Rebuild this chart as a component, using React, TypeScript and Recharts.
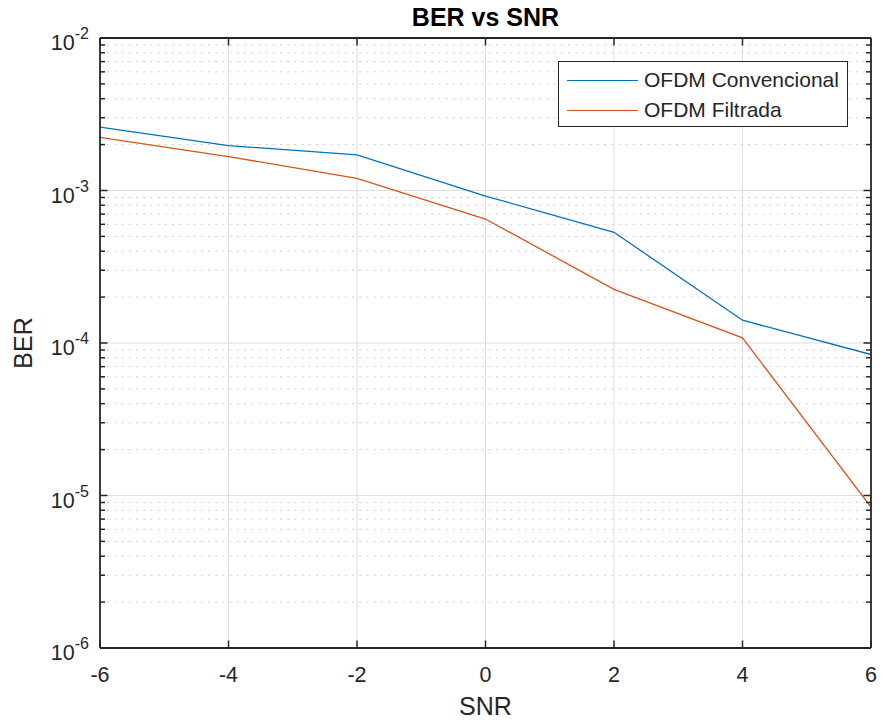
import { LineChart, Line, XAxis, YAxis, CartesianGrid, Legend } from 'recharts';

const snr = [-6, -4, -2, 0, 2, 4, 6];
const berConvencional = [2.6e-3, 1.97e-3, 1.71e-3, 9.2e-4, 5.32e-4, 1.41e-4, 8.4e-5];
const berFiltrada = [2.23e-3, 1.67e-3, 1.2e-3, 6.5e-4, 2.25e-4, 1.08e-4, 8.4e-6];

const xTicks = [-6, -4, -2, 0, 2, 4, 6];
const decadeTicks = [1e-6, 1e-5, 1e-4, 1e-3, 1e-2];
const minorMantissas = [2, 3, 4, 5, 6, 7, 8, 9];

const minorTicks = decadeTicks
  .slice(0, -1)
  .flatMap((d) => minorMantissas.map((m) => Number((m * d).toPrecision(3))));
const allYTicks = [...decadeTicks, ...minorTicks].sort((a, b) => a - b);

const data = snr.map((s, i) => ({ snr: s, conv: berConvencional[i], filt: berFiltrada[i] }));

const AXIS = '#262626';
const FONT = '"Liberation Sans", Arial, Helvetica, sans-serif';
const BLUE = '#0072BD';
const ORANGE = '#D95319';

const isDecade = (v: number) => decadeTicks.some((d) => Math.abs(d - v) / d < 1e-6);

const LeftYTick = ({ x, y, payload }: any) => {
  const major = isDecade(payload.value);
  const exp = Math.round(Math.log10(payload.value));
  return (
    <g>
      <line x1={x} x2={x + (major ? 7.5 : 5)} y1={y} y2={y} stroke={AXIS} strokeWidth={1.5} />
      {major && (
        <text x={x - 11} y={y + 12} textAnchor="end" fill={AXIS} fontSize={21.5} fontFamily={FONT}>
          10
          <tspan dy={-11} fontSize={16}>{exp}</tspan>
        </text>
      )}
    </g>
  );
};

const RightYTick = ({ x, y, payload }: any) => {
  const major = isDecade(payload.value);
  return <line x1={x} x2={x - (major ? 7.5 : 5)} y1={y} y2={y} stroke={AXIS} strokeWidth={1.5} />;
};

const BottomXTick = ({ x, y, payload }: any) => (
  <g>
    <line x1={x} x2={x} y1={y} y2={y - 7.5} stroke={AXIS} strokeWidth={1.5} />
    <text x={x} y={y + 34} textAnchor="middle" fill={AXIS} fontSize={21.5} fontFamily={FONT}>
      {payload.value}
    </text>
  </g>
);

const TopXTick = ({ x, y }: any) => (
  <line x1={x} x2={x} y1={y} y2={y + 7.5} stroke={AXIS} strokeWidth={1.5} />
);

const LegendBox = ({ payload }: any) => (
  <div
    style={{
      width: 290,
      height: 66,
      boxSizing: 'border-box',
      border: `1px solid ${AXIS}`,
      background: '#fff',
      paddingTop: 3,
    }}
  >
    {(payload || []).map((item: any) => (
      <div key={item.value} style={{ display: 'flex', alignItems: 'center', height: 30 }}>
        <div style={{ marginLeft: 8, width: 71, height: 0, borderTop: `1.3px solid ${item.color}` }} />
        <span style={{ marginLeft: 6, fontFamily: FONT, fontSize: 21, color: AXIS }}>{item.value}</span>
      </div>
    ))}
  </div>
);

export default function App() {
  return (
    <div style={{ position: 'relative', width: 881, height: 724, background: '#fff' }}>
      <style>{'body{margin:0;}'}</style>
      <LineChart width={881} height={724} data={data} margin={{ top: 0, right: 0, bottom: 0, left: 0 }}>
        <CartesianGrid
          horizontalValues={decadeTicks}
          verticalValues={xTicks}
          stroke="#dedede"
          strokeWidth={1}
        />
        <CartesianGrid
          vertical={false}
          horizontalValues={minorTicks}
          stroke="#cccccc"
          strokeDasharray="2 5.2"
        />
        <XAxis
          dataKey="snr"
          type="number"
          domain={[-6, 6]}
          ticks={xTicks}
          interval={0}
          allowDataOverflow
          height={76}
          tickSize={0}
          tickMargin={0}
          tickLine={false}
          tick={<BottomXTick />}
          axisLine={{ stroke: AXIS, strokeWidth: 1.8 }}
          label={{
            content: (p: any) => {
              const vb = p.viewBox || { x: 100, y: 648, width: 771, height: 76 };
              return (
                <text x={vb.x + vb.width / 2} y={715} textAnchor="middle" fill={AXIS} fontSize={25} fontFamily={FONT}>
                  SNR
                </text>
              );
            },
          }}
        />
        <XAxis
          xAxisId="top"
          orientation="top"
          dataKey="snr"
          type="number"
          domain={[-6, 6]}
          ticks={xTicks}
          interval={0}
          allowDataOverflow
          height={38}
          tickSize={0}
          tickMargin={0}
          tickLine={false}
          tick={<TopXTick />}
          axisLine={{ stroke: AXIS, strokeWidth: 1.8 }}
          label={{
            content: (p: any) => {
              const vb = p.viewBox || { x: 100, y: 0, width: 771, height: 38 };
              return (
                <text x={vb.x + vb.width / 2} y={26} textAnchor="middle" fill="#000" fontSize={25} fontWeight="bold" fontFamily={FONT}>
                  BER vs SNR
                </text>
              );
            },
          }}
        />
        <YAxis
          type="number"
          scale="log"
          domain={[1e-6, 1e-2]}
          ticks={allYTicks}
          interval={0}
          allowDataOverflow
          width={100}
          tickSize={0}
          tickMargin={0}
          tickLine={false}
          tick={<LeftYTick />}
          axisLine={{ stroke: AXIS, strokeWidth: 1.8 }}
          label={{
            content: (p: any) => {
              const vb = p.viewBox || { x: 0, y: 38, width: 100, height: 610 };
              const cx = 23;
              const cy = vb.y + vb.height / 2;
              return (
                <text
                  x={cx}
                  y={cy}
                  transform={`rotate(-90 ${cx} ${cy})`}
                  textAnchor="middle"
                  dominantBaseline="central"
                  fill={AXIS}
                  fontSize={25}
                  fontFamily={FONT}
                >
                  BER
                </text>
              );
            },
          }}
        />
        <YAxis
          yAxisId="right"
          orientation="right"
          type="number"
          scale="log"
          domain={[1e-6, 1e-2]}
          ticks={allYTicks}
          interval={0}
          allowDataOverflow
          width={10}
          tickSize={0}
          tickMargin={0}
          tickLine={false}
          tick={<RightYTick />}
          axisLine={{ stroke: AXIS, strokeWidth: 1.8 }}
        />
        <Legend
          layout="horizontal"
          verticalAlign="middle"
          align="center"
          wrapperStyle={{ position: 'absolute', left: 558, top: 61, width: 290, height: 66 }}
          content={<LegendBox />}
        />
        <Line
          dataKey="conv"
          name="OFDM Convencional"
          type="linear"
          stroke={BLUE}
          strokeWidth={1.3}
          dot={false}
          activeDot={false}
          isAnimationActive={false}
        />
        <Line
          dataKey="filt"
          name="OFDM Filtrada"
          type="linear"
          stroke={ORANGE}
          strokeWidth={1.3}
          dot={false}
          activeDot={false}
          isAnimationActive={false}
        />
      </LineChart>
    </div>
  );
}
